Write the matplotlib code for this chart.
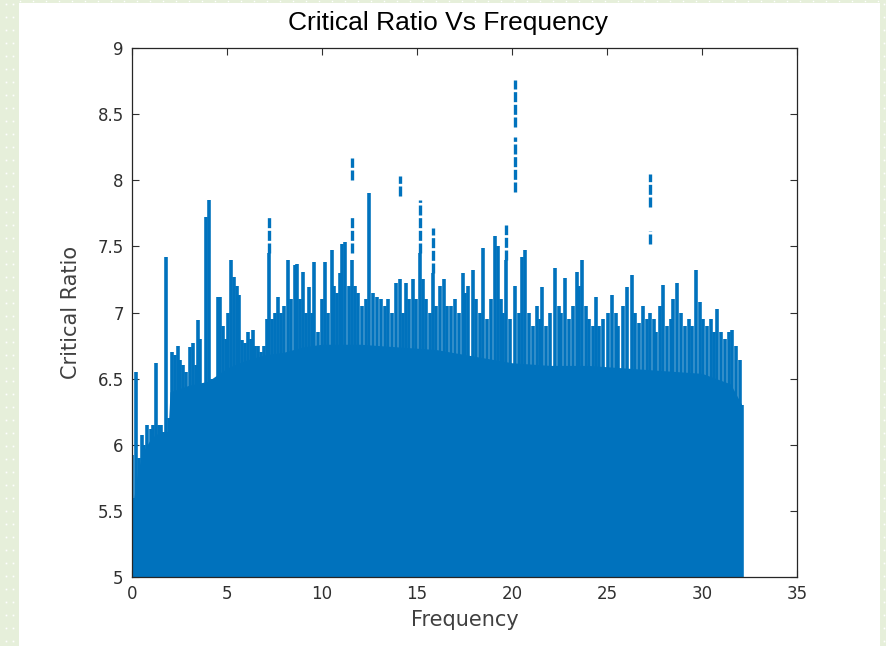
import matplotlib
matplotlib.use("Agg")
import matplotlib.pyplot as plt
from matplotlib.patches import Rectangle
from matplotlib.lines import Line2D

# ---------------- data ----------------
# upper envelope of the dense signal: frequency -> peak critical ratio
peak_freq = [0.0, 0.1, 0.2, 0.35, 0.5, 0.65, 0.8, 1.0, 1.1, 1.26, 1.4, 1.55, 1.77, 1.95,
             2.1, 2.25, 2.4, 2.55, 2.7, 2.85, 3.05, 3.2, 3.35, 3.47, 3.6, 3.75, 3.9, 4.05,
             4.2, 4.35, 4.5, 4.65, 4.8, 4.95, 5.05, 5.2, 5.35, 5.5, 5.65, 5.8, 5.95, 6.1,
             6.25, 6.37, 6.5, 6.65, 6.8, 6.95, 7.1, 7.2, 7.35, 7.5, 7.7, 7.85, 8.0, 8.2,
             8.35, 8.6, 8.7, 8.85, 9.0, 9.15, 9.3, 9.45, 9.6, 9.8, 10.0, 10.15, 10.3, 10.5,
             10.65, 10.8, 10.95, 11.05, 11.2, 11.4, 11.6, 11.75, 11.9, 12.1, 12.3, 12.5,
             12.7, 12.9, 13.1, 13.3, 13.5, 13.7, 13.9, 14.1, 14.25, 14.4, 14.6, 14.8, 14.95,
             15.15, 15.3, 15.5, 15.7, 15.85, 16.0, 16.2, 16.4, 16.6, 16.8, 17.0, 17.2, 17.4,
             17.55, 17.7, 17.95, 18.1, 18.3, 18.5, 18.7, 18.9, 19.1, 19.25, 19.4, 19.55,
             19.7, 19.9, 20.15, 20.35, 20.5, 20.7, 20.9, 21.1, 21.3, 21.45, 21.6, 21.8,
             22.0, 22.25, 22.45, 22.6, 22.8, 23.0, 23.2, 23.4, 23.55, 23.7, 23.9, 24.05,
             24.25, 24.4, 24.6, 24.8, 25.05, 25.25, 25.45, 25.6, 25.85, 26.05, 26.3, 26.5,
             26.7, 26.9, 27.1, 27.25, 27.45, 27.6, 27.8, 27.95, 28.15, 28.35, 28.5, 28.7,
             28.9, 29.1, 29.3, 29.5, 29.7, 29.9, 30.05, 30.25, 30.45, 30.65, 30.8, 31.0,
             31.2, 31.4, 31.6, 31.8, 32.0, 32.1]
peak_ratio = [5.92, 5.6, 6.55, 5.9, 6.07, 6.0, 6.15, 6.12, 6.15, 6.62, 6.15, 6.15, 7.42, 6.2,
              6.7, 6.68, 6.75, 6.64, 6.6, 6.55, 6.74, 6.77, 6.6, 6.94, 6.8, 6.4, 7.72, 7.85,
              6.5, 6.5, 7.12, 7.12, 6.9, 6.8, 7.0, 7.4, 7.27, 7.2, 7.13, 6.79, 6.77, 6.85,
              6.8, 6.87, 6.75, 6.75, 6.7, 6.75, 6.95, 7.45, 6.95, 7.0, 7.12, 7.0, 7.05, 7.4,
              7.1, 7.36, 7.37, 7.1, 7.31, 7.0, 7.19, 7.0, 7.38, 6.85, 7.1, 7.38, 7.0, 7.47,
              7.2, 7.15, 7.3, 7.52, 7.53, 7.2, 7.4, 7.2, 7.15, 7.05, 7.1, 7.9,
              7.15, 7.12, 7.1, 7.05, 7.1, 7.0, 7.22, 7.25, 7.0, 7.22, 7.1, 7.25, 7.1,
              7.45, 7.25, 7.1, 7.0, 7.3, 7.05, 7.2, 7.25, 7.05, 7.05, 7.1, 7.0, 7.3,
              7.15, 7.2, 7.32, 7.1, 7.0, 7.49, 6.95, 7.1, 7.58, 7.5, 7.1, 7.0,
              7.4, 6.95, 7.2, 7.0, 7.42, 7.47, 7.0, 6.9, 7.05, 6.95, 7.19, 6.9,
              7.0, 7.34, 7.05, 7.0, 7.26, 6.95, 7.05, 7.31, 7.2, 7.4, 7.05, 6.95,
              6.9, 7.12, 6.9, 6.95, 7.0, 7.13, 7.0, 6.9, 7.05, 7.19, 7.28, 7.0,
              6.92, 7.05, 6.95, 7.0, 6.95, 6.85, 7.05, 7.21, 6.9, 6.95, 7.1, 7.22,
              7.0, 6.9, 6.95, 6.9, 7.32, 7.08, 6.95, 6.9, 6.95, 6.85, 7.03, 6.85,
              6.8, 6.85, 6.87, 6.75, 6.64, 6.3]

# solid core of the signal (level below which everything is filled)
core_freq = [0.0, 0.3, 0.6, 1.0, 1.5, 1.9, 2.0, 3.0, 4.0, 5.0, 6.0, 7.0, 8.0, 9.0, 10.0,
             12.0, 14.0, 16.0, 18.0, 20.0, 22.0, 24.0, 26.0, 28.0, 30.0, 31.5, 32.1]
core_ratio = [5.5, 5.8, 5.95, 6.05, 6.1, 6.1, 6.4, 6.45, 6.48, 6.58, 6.64, 6.68, 6.7, 6.74,
              6.76, 6.76, 6.74, 6.72, 6.67, 6.62, 6.6, 6.6, 6.58, 6.56, 6.54, 6.46, 6.3]

# isolated broken spikes above the envelope
spike_freq = [7.2, 11.6, 11.6, 14.1, 15.15, 15.85, 19.7, 20.15, 20.15, 27.25, 27.25]
spike_low = [7.45, 7.45, 8.0, 7.88, 7.45, 7.3, 7.4, 7.91, 8.4, 7.52, 7.8]
spike_high = [7.74, 7.74, 8.17, 8.03, 7.85, 7.64, 7.66, 8.33, 8.76, 7.62, 8.05]

x_ticks = [0, 5, 10, 15, 20, 25, 30, 35]
y_ticks = [5, 5.5, 6, 6.5, 7, 7.5, 8, 8.5, 9]
y_tick_labels = ["5", "5.5", "6", "6.5", "7", "7.5", "8", "8.5", "9"]

# ---------------- figure ----------------
W, H = 887, 646
fig = plt.figure(figsize=(W / 100, H / 100), dpi=100)
fig.patch.set_facecolor("#e6efda")

# dotted green frame, white panel
for xp in [6, 13]:
    for yp in range(4, H, 13):
        fig.add_artist(Line2D([xp / W], [1 - yp / H], marker="s", ms=1.2, color="white",
                              mec="none", transform=fig.transFigure))
for yp in range(4, H, 13):
    fig.add_artist(Line2D([884 / W], [1 - yp / H], marker="s", ms=1.2, color="white",
                          mec="none", transform=fig.transFigure))
for xp in range(20, 880, 13):
    fig.add_artist(Line2D([xp / W], [1 - 1 / H], marker="s", ms=1.0, color="white",
                          mec="none", transform=fig.transFigure))
fig.add_artist(Rectangle((19 / W, 0), (880 - 19) / W, 1 - 3 / H, transform=fig.transFigure,
                         facecolor="white", edgecolor="none", zorder=0))

ax = fig.add_axes([132 / W, 1 - 577 / H, (797 - 132) / W, (577 - 48) / H])
ax.set_facecolor("white")
blue = "#0072BD"

ax.fill_between(core_freq, 5, core_ratio, color=blue, lw=0, zorder=2)
ax.vlines(peak_freq, 5, peak_ratio, color=blue, lw=2.6, zorder=2)
ax.vlines(spike_freq, spike_low, spike_high, color=blue, lw=2.4,
          linestyles=[(0, (3, 0.8))], zorder=2)

ax.set_xlim(0, 35)
ax.set_ylim(5, 9)
ax.set_xticks(x_ticks)
ax.set_yticks(y_ticks)
ax.set_yticklabels(y_tick_labels)
tick_col = "#303030"
ax.tick_params(direction="in", length=5, width=0.8, top=True, right=True,
               labelsize=12, colors=tick_col, pad=6)
for s in ax.spines.values():
    s.set_color("#262626")
    s.set_linewidth(0.9)

ax.set_xlabel("Frequency", fontsize=15, color="#404040", labelpad=5)
ax.set_ylabel("Critical Ratio", fontsize=15, color="#404040", labelpad=12)
fig.text(448.5 / W, 1 - 23 / H, "Critical Ratio Vs Frequency", ha="center", va="center",
         fontsize=19, family="Liberation Sans", color="black")

fig.savefig("out.png", dpi=100, facecolor=fig.get_facecolor())
